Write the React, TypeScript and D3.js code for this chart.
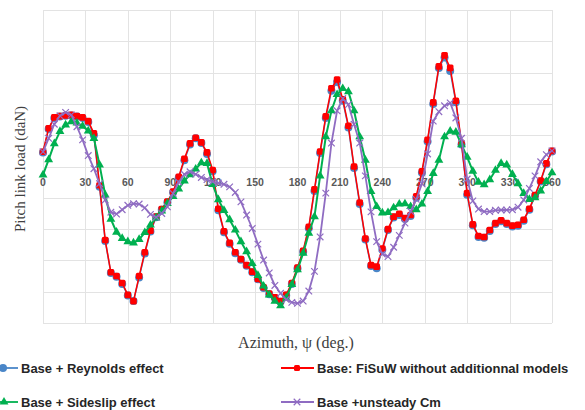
import React, { useEffect, useRef } from 'react';
import * as d3 from 'd3';

// azimuth samples every 4 degrees
const azimuth = d3.range(0, 361, 4);
const xTicks = [0, 30, 60, 90, 120, 150, 180, 210, 240, 270, 300, 330, 360];
const yGrid = [-5, -4, -3, -2, -1, 0, 1, 2, 3, 4, 5];

const reynolds = [
  0.45, 1.2, 1.55, 1.6, 1.62, 1.63, 1.6, 1.55, 1.42, 1.0, -0.65, -2.38, -3.4, -3.52, -3.75, -4.12,
  -4.3, -3.55, -2.78, -2.08, -1.62, -1.38, -1.14, -0.83, -0.36, 0.2, 0.7, 0.9, 0.75, 0.4, -0.15,
  -1.4, -2.1, -2.47, -2.77, -2.98, -3.17, -3.38, -3.6, -3.88, -4.08, -4.2, -4.32, -4.12, -3.75,
  -3.26, -2.72, -1.97, -0.78, 0.43, 1.55, 2.42, 2.7, 2.1, 1.25, -0.05, -1.2, -2.33, -3.18, -3.25,
  -2.66, -2.03, -1.63, -1.55, -1.68, -1.58, -1.0, -0.2, 0.8, 2.0, 3.15, 3.48, 3.05, 2.05, 0.7,
  -0.9, -1.88, -2.25, -2.28, -2.06, -1.84, -1.75, -1.84, -1.92, -1.89, -1.73, -1.38, -0.94, -0.48,
  0.07, 0.48,
];

const base = [
  0.47, 1.22, 1.57, 1.61, 1.63, 1.65, 1.61, 1.57, 1.45, 1.06, -0.6, -2.35, -3.38, -3.5, -3.72, -4.1,
  -4.3, -3.5, -2.74, -2.05, -1.6, -1.36, -1.12, -0.8, -0.33, 0.25, 0.74, 0.92, 0.77, 0.45, -0.11,
  -1.35, -2.07, -2.44, -2.74, -2.96, -3.15, -3.36, -3.59, -3.86, -4.06, -4.18, -4.3, -4.1, -3.72,
  -3.23, -2.69, -1.93, -0.73, 0.48, 1.6, 2.5, 2.78, 2.15, 1.3, 0.0, -1.15, -2.3, -3.15, -3.2,
  -2.62, -2.0, -1.6, -1.51, -1.65, -1.55, -0.95, -0.15, 0.85, 2.05, 3.2, 3.55, 3.15, 2.1, 0.75,
  -0.85, -1.85, -2.22, -2.25, -2.03, -1.81, -1.72, -1.81, -1.89, -1.86, -1.7, -1.35, -0.91, -0.45,
  0.1, 0.5,
];

const sideslip = [
  -0.27, 0.22, 0.73, 1.12, 1.33, 1.43, 1.39, 1.29, 1.14, 0.9, 0.05, -0.91, -1.68, -2.1, -2.3, -2.4,
  -2.44, -2.33, -2.11, -1.87, -1.64, -1.42, -1.18, -0.96, -0.72, -0.46, -0.26, -0.08, 0.12, 0.1,
  -0.57, -1.06, -1.4, -1.7, -2.03, -2.4, -2.72, -3.1, -3.48, -3.82, -4.1, -4.3, -4.45, -4.2, -3.77,
  -3.3, -2.77, -2.13, -1.6, -0.3, 0.95, 1.78, 2.3, 2.49, 2.39, 1.78, 0.95, 0.2, -0.8, -1.28,
  -1.48, -1.47, -1.32, -1.2, -1.19, -1.28, -1.38, -1.2, -0.8, -0.22, 0.2, 0.95, 1.13, 1.1, 0.7,
  0.3, -0.15, -0.5, -0.58, -0.42, -0.12, 0.1, 0.05, -0.25, -0.55, -0.86, -1.05, -1.0, -0.78,
  -0.48, -0.2,
];

const unsteadyCm = [
  0.47, 0.9, 1.35, 1.62, 1.73, 1.65, 1.27, 0.85, 0.35, -0.07, -0.55, -1.07, -1.46, -1.52, -1.38,
  -1.24, -1.19, -1.2, -1.32, -1.53, -1.62, -1.5, -1.29, -0.86, -0.5, -0.25, -0.17, -0.25, -0.35,
  -0.42, -0.48, -0.53, -0.57, -0.65, -0.83, -1.13, -1.55, -1.98, -2.48, -2.99, -3.4, -3.8, -4.05,
  -4.25, -4.34, -4.37, -4.3, -3.98, -3.35, -2.25, -0.85, 0.75, 1.78, 2.17, 1.98, 1.35, 0.75,
  -0.3, -1.45, -2.4, -2.8, -2.88, -2.58, -2.2, -1.81, -1.43, -1.05, -0.55, 0.4, 1.45, 1.75, 1.94,
  2.03, 1.55, 0.9, -0.4, -1.1, -1.36, -1.44, -1.44, -1.4, -1.39, -1.39, -1.38, -1.3, -1.07,
  -0.7, -0.3, 0.15, 0.38, 0.5,
];

const BLUE = '#4a86c8';
const RED = '#ff0000';
const GREEN = '#00b050';
const PURPLE = '#8f6cc2';

const App = () => {
  const svgRef = useRef<SVGSVGElement>(null);

  useEffect(() => {
    const svg = d3.select(svgRef.current);
    svg.selectAll('*').remove();

    const x = d3.scaleLinear().domain([0, 360]).range([43, 552]);
    const y = d3.scaleLinear().domain([-5, 5]).range([323, 10]);

    // grid
    const grid = svg.append('g').attr('stroke', '#e3e3e3').attr('stroke-width', 1);
    grid.selectAll('.vg')
      .data(xTicks)
      .enter()
      .append('line')
      .attr('x1', d => Math.round(x(d)) + 0.5)
      .attr('x2', d => Math.round(x(d)) + 0.5)
      .attr('y1', y(5))
      .attr('y2', y(-5));
    grid.selectAll('.hg')
      .data(yGrid)
      .enter()
      .append('line')
      .attr('x1', x(0))
      .attr('x2', x(360))
      .attr('y1', d => Math.round(y(d)) + 0.5)
      .attr('y2', d => Math.round(y(d)) + 0.5);

    // tick labels along the zero level
    svg.append('g')
      .selectAll('text')
      .data(xTicks)
      .enter()
      .append('text')
      .attr('x', d => x(d))
      .attr('y', y(0) + 19)
      .attr('text-anchor', 'middle')
      .style('font-family', 'Liberation Sans, Arial, sans-serif')
      .style('font-size', '10.5px')
      .style('font-weight', 'bold')
      .style('fill', '#595959')
      .text(d => d);

    const line = d3.line<number>()
      .x((d, i) => x(azimuth[i]))
      .y(d => y(d));

    const pts = (vals: number[]) => vals.map((v, i) => [x(azimuth[i]), y(v)]);

    // Reynolds (blue circles)
    svg.append('path').attr('d', line(reynolds)).attr('fill', 'none')
      .attr('stroke', BLUE).attr('stroke-width', 1.5);
    svg.append('g').selectAll('circle').data(pts(reynolds)).enter().append('circle')
      .attr('cx', d => d[0]).attr('cy', d => d[1]).attr('r', 4).attr('fill', BLUE);

    // Base (red)
    svg.append('path').attr('d', line(base)).attr('fill', 'none')
      .attr('stroke', RED).attr('stroke-width', 1.5);
    svg.append('g').selectAll('rect').data(pts(base)).enter().append('rect')
      .attr('x', d => d[0] - 3.3).attr('y', d => d[1] - 3.3)
      .attr('width', 6.6).attr('height', 6.6).attr('rx', 1.5).attr('fill', RED);

    // Sideslip (green triangles)
    const tri = d3.symbol().type(d3.symbolTriangle).size(34);
    svg.append('path').attr('d', line(sideslip)).attr('fill', 'none')
      .attr('stroke', GREEN).attr('stroke-width', 2);
    svg.append('g').selectAll('path').data(pts(sideslip)).enter().append('path')
      .attr('d', tri()).attr('transform', d => `translate(${d[0]},${d[1]})`).attr('fill', GREEN);

    // Unsteady Cm (purple crosses)
    const cross = d3.symbol().type(d3.symbolX).size(30);
    svg.append('path').attr('d', line(unsteadyCm)).attr('fill', 'none')
      .attr('stroke', PURPLE).attr('stroke-width', 1.8);
    svg.append('g').selectAll('path').data(pts(unsteadyCm)).enter().append('path')
      .attr('d', cross()).attr('transform', d => `translate(${d[0]},${d[1]})`)
      .attr('fill', 'none').attr('stroke', PURPLE).attr('stroke-width', 1.2);

    // axis titles
    svg.append('text')
      .attr('x', 296).attr('y', 348)
      .attr('text-anchor', 'middle')
      .style('font-family', 'Liberation Serif, Times New Roman, serif')
      .style('font-size', '16px')
      .style('fill', '#404040')
      .text('Azimuth, ψ (deg.)');

    svg.append('text')
      .attr('transform', 'translate(25,169) rotate(-90)')
      .attr('text-anchor', 'middle')
      .style('font-family', 'Liberation Serif, Times New Roman, serif')
      .style('font-size', '15px')
      .style('fill', '#404040')
      .text('Pitch link load (daN)');

    // legend
    const legendItems = [
      { name: 'Base + Reynolds effect', color: BLUE, x0: -10, x1: 18, mx: 3, y: 368, kind: 'circle' },
      { name: 'Base: FiSuW without additionnal models', color: RED, x0: 281, x1: 314, mx: 297, y: 368, kind: 'square' },
      { name: 'Base + Sideslip effect', color: GREEN, x0: -10, x1: 18, mx: 4, y: 402, kind: 'tri' },
      { name: 'Base +unsteady Cm', color: PURPLE, x0: 281, x1: 314, mx: 297, y: 402, kind: 'x' },
    ];

    const legend = svg.selectAll('.legend')
      .data(legendItems)
      .enter()
      .append('g')
      .attr('class', 'legend');

    legend.append('line')
      .attr('x1', d => d.x0).attr('x2', d => d.x1)
      .attr('y1', d => d.y).attr('y2', d => d.y)
      .attr('stroke', d => d.color).attr('stroke-width', 1.8);

    legend.each(function (d) {
      const g = d3.select(this);
      if (d.kind === 'circle') {
        g.append('circle').attr('cx', d.mx).attr('cy', d.y).attr('r', 4).attr('fill', d.color);
      } else if (d.kind === 'square') {
        g.append('rect').attr('x', d.mx - 3).attr('y', d.y - 3).attr('width', 6).attr('height', 6)
          .attr('rx', 1.5).attr('fill', d.color);
      } else if (d.kind === 'tri') {
        g.append('path').attr('d', tri()).attr('transform', `translate(${d.mx},${d.y})`).attr('fill', d.color);
      } else {
        g.append('path').attr('d', cross()).attr('transform', `translate(${d.mx},${d.y})`)
          .attr('fill', 'none').attr('stroke', d.color).attr('stroke-width', 1.2);
      }
    });

    legend.append('text')
      .attr('x', d => d.x1 + 3)
      .attr('y', d => d.y + 4.5)
      .style('font-family', 'Liberation Sans, Arial, sans-serif')
      .style('font-size', '13px')
      .style('font-weight', 'bold')
      .style('fill', '#262626')
      .text(d => d.name);
  }, []);

  return (
    <div style={{ position: 'absolute', left: 0, top: 0 }}>
      <svg ref={svgRef} width={585} height={410} style={{ display: 'block', background: '#fff' }} />
    </div>
  );
};

export default App;
